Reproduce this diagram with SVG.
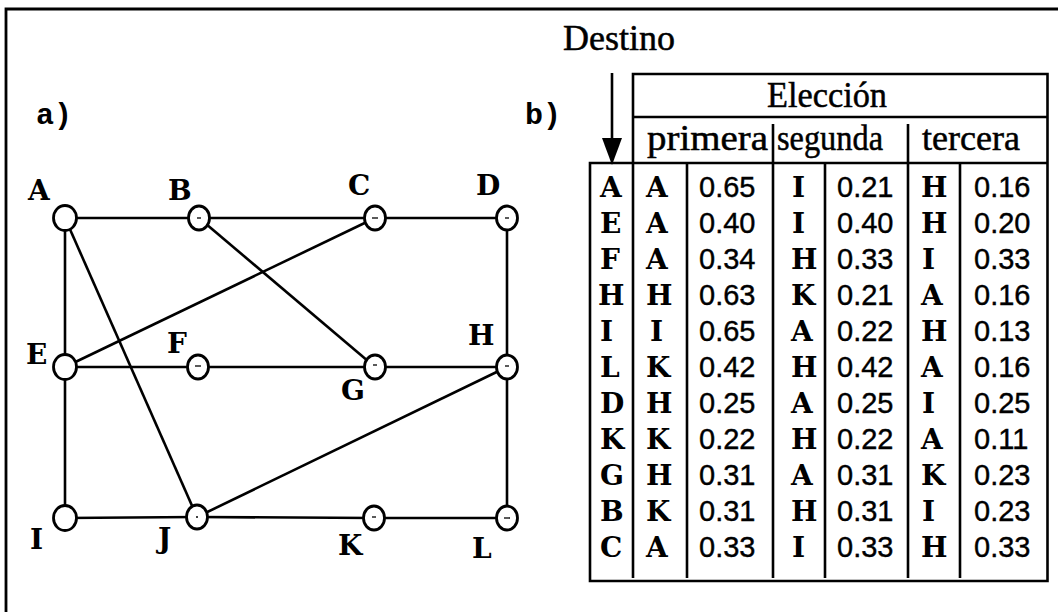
<svg xmlns="http://www.w3.org/2000/svg" width="1058" height="612" viewBox="0 0 1058 612">
<defs>
<style>
.frame{stroke:#000;stroke-width:2.8;fill:none}
.edge{stroke:#000;stroke-width:2.6;fill:none}
.node{fill:#fff;stroke:#000;stroke-width:2.8}
.dot{stroke:#000;stroke-width:1.3}
.lbl{font-family:"DejaVu Serif",serif;font-weight:bold;font-size:28px;fill:#000}
.tag{font-family:"Liberation Mono",monospace;font-weight:bold;font-size:30px;fill:#000}
.hdr{font-family:"Liberation Serif",serif;font-size:36px;fill:#000;stroke:#000;stroke-width:0.5}
.num{font-family:"Liberation Sans",sans-serif;font-size:29px;fill:#000;stroke:#000;stroke-width:0.4}
.grid{stroke:#000;stroke-width:2.6;fill:none}
</style>
</defs>
<rect width="1058" height="612" fill="#fff"/>
<path class="frame" d="M6,612 V9 H1058"/>
<text class="tag" x="36" y="124">a)</text>
<text class="tag" x="525" y="124">b)</text>

<g id="connectors">
<line class="edge" x1="65" y1="218" x2="199" y2="218"/>
<line class="edge" x1="199" y1="218" x2="375" y2="218"/>
<line class="edge" x1="375" y1="218" x2="507" y2="218"/>
<line class="edge" x1="65" y1="218" x2="65" y2="367"/>
<line class="edge" x1="65" y1="218" x2="197" y2="517"/>
<line class="edge" x1="199" y1="218" x2="375" y2="367"/>
<line class="edge" x1="375" y1="218" x2="65" y2="367"/>
<line class="edge" x1="507" y1="218" x2="507" y2="367"/>
<line class="edge" x1="65" y1="367" x2="198" y2="367"/>
<line class="edge" x1="198" y1="367" x2="375" y2="367"/>
<line class="edge" x1="375" y1="367" x2="507" y2="367"/>
<line class="edge" x1="65" y1="367" x2="65" y2="518"/>
<line class="edge" x1="507" y1="367" x2="197" y2="517"/>
<line class="edge" x1="507" y1="367" x2="507" y2="518"/>
<line class="edge" x1="65" y1="518" x2="197" y2="517"/>
<line class="edge" x1="197" y1="517" x2="374" y2="518"/>
<line class="edge" x1="374" y1="518" x2="507" y2="518"/>
</g>

<g id="node-A"><ellipse class="node" cx="65" cy="218" rx="11.5" ry="12.5"/><text class="lbl" x="28" y="200">A</text></g>
<g id="node-B"><ellipse class="node" cx="199" cy="218" rx="10.5" ry="12"/><line class="dot" x1="197" y1="218" x2="201" y2="218"/><text class="lbl" x="168" y="200">B</text></g>
<g id="node-C"><ellipse class="node" cx="375" cy="218" rx="10.5" ry="12"/><line class="dot" x1="372" y1="218" x2="378" y2="218"/><text class="lbl" x="348" y="195">C</text></g>
<g id="node-D"><ellipse class="node" cx="507" cy="218" rx="10.5" ry="12"/><line class="dot" x1="505" y1="218" x2="509" y2="218"/><text class="lbl" x="476" y="195">D</text></g>
<g id="node-E"><ellipse class="node" cx="65" cy="367" rx="11.5" ry="12.5"/><text class="lbl" x="26" y="364">E</text></g>
<g id="node-F"><ellipse class="node" cx="198" cy="367" rx="10.5" ry="12"/><line class="dot" x1="195" y1="366" x2="201" y2="366"/><text class="lbl" x="167" y="353">F</text></g>
<g id="node-G"><ellipse class="node" cx="375" cy="367" rx="10.5" ry="12"/><line class="dot" x1="373" y1="365" x2="377" y2="365"/><text class="lbl" x="341" y="400">G</text></g>
<g id="node-H"><ellipse class="node" cx="507" cy="367" rx="10.5" ry="12"/><line class="dot" x1="505" y1="366" x2="509" y2="366"/><text class="lbl" x="468" y="345">H</text></g>
<g id="node-I"><ellipse class="node" cx="65" cy="518" rx="11.5" ry="12.5"/><text class="lbl" x="30" y="549">I</text></g>
<g id="node-J"><ellipse class="node" cx="197" cy="517" rx="10.5" ry="12"/><line class="dot" x1="196" y1="517" x2="198" y2="517"/><text class="lbl" x="158" y="548">J</text></g>
<g id="node-K"><ellipse class="node" cx="374" cy="518" rx="10.5" ry="12"/><line class="dot" x1="372" y1="517" x2="376" y2="517"/><text class="lbl" x="338" y="555">K</text></g>
<g id="node-L"><ellipse class="node" cx="507" cy="518" rx="10.5" ry="12"/><line class="dot" x1="504" y1="518" x2="510" y2="518"/><text class="lbl" x="472" y="558">L</text></g>

<g id="table">
<text class="hdr" x="563" y="50" textLength="112" lengthAdjust="spacingAndGlyphs">Destino</text>
<line class="grid" x1="612" y1="73" x2="612" y2="142"/>
<polygon points="602,138 622,138 612,165" fill="#000"/>
<path class="grid" d="M633,163 V74 H1047.5 V581 H590 V163 H1047.5"/>
<line class="grid" x1="633" y1="117" x2="1047.5" y2="117"/>
<line class="grid" x1="773" y1="124" x2="773" y2="163"/>
<line class="grid" x1="908" y1="124" x2="908" y2="163"/>
<line class="grid" x1="633" y1="163" x2="633" y2="578"/>
<line class="grid" x1="687" y1="163" x2="687" y2="578"/>
<line class="grid" x1="773" y1="163" x2="773" y2="578"/>
<line class="grid" x1="825" y1="163" x2="825" y2="578"/>
<line class="grid" x1="908" y1="163" x2="908" y2="578"/>
<line class="grid" x1="960" y1="163" x2="960" y2="578"/>
<text class="hdr" x="767" y="107" textLength="120" lengthAdjust="spacingAndGlyphs">Elección</text>
<text class="hdr" x="647" y="150" textLength="121" lengthAdjust="spacingAndGlyphs">primera</text>
<text class="hdr" x="777" y="150" textLength="106" lengthAdjust="spacingAndGlyphs">segunda</text>
<text class="hdr" x="922" y="150" textLength="98" lengthAdjust="spacingAndGlyphs">tercera</text>

<g class="lbl">
<text x="600" y="197">A</text><text x="600" y="233">E</text><text x="600" y="269">F</text><text x="598" y="305">H</text><text x="600" y="341">I</text><text x="600" y="377">L</text><text x="600" y="413">D</text><text x="600" y="449">K</text><text x="600" y="485">G</text><text x="600" y="521">B</text><text x="600" y="557">C</text>
<text x="646" y="197">A</text><text x="646" y="233">A</text><text x="646" y="269">A</text><text x="646" y="305">H</text><text x="650" y="341">I</text><text x="646" y="377">K</text><text x="646" y="413">H</text><text x="646" y="449">K</text><text x="646" y="485">H</text><text x="646" y="521">K</text><text x="646" y="557">A</text>
<text x="792" y="197">I</text><text x="792" y="233">I</text><text x="791" y="269">H</text><text x="791" y="305">K</text><text x="791" y="341">A</text><text x="791" y="377">H</text><text x="791" y="413">A</text><text x="791" y="449">H</text><text x="791" y="485">A</text><text x="791" y="521">H</text><text x="792" y="557">I</text>
<text x="921" y="197">H</text><text x="921" y="233">H</text><text x="922" y="269">I</text><text x="921" y="305">A</text><text x="921" y="341">H</text><text x="921" y="377">A</text><text x="922" y="413">I</text><text x="921" y="449">A</text><text x="921" y="485">K</text><text x="922" y="521">I</text><text x="921" y="557">H</text>
</g>
<g class="num">
<text x="699" y="197">0.65</text><text x="699" y="233">0.40</text><text x="699" y="269">0.34</text><text x="699" y="305">0.63</text><text x="699" y="341">0.65</text><text x="699" y="377">0.42</text><text x="699" y="413">0.25</text><text x="699" y="449">0.22</text><text x="699" y="485">0.31</text><text x="699" y="521">0.31</text><text x="699" y="557">0.33</text>
<text x="837" y="197">0.21</text><text x="837" y="233">0.40</text><text x="837" y="269">0.33</text><text x="837" y="305">0.21</text><text x="837" y="341">0.22</text><text x="837" y="377">0.42</text><text x="837" y="413">0.25</text><text x="837" y="449">0.22</text><text x="837" y="485">0.31</text><text x="837" y="521">0.31</text><text x="837" y="557">0.33</text>
<text x="974" y="197">0.16</text><text x="974" y="233">0.20</text><text x="974" y="269">0.33</text><text x="974" y="305">0.16</text><text x="974" y="341">0.13</text><text x="974" y="377">0.16</text><text x="974" y="413">0.25</text><text x="974" y="449">0.11</text><text x="974" y="485">0.23</text><text x="974" y="521">0.23</text><text x="974" y="557">0.33</text>
</g>
</g>
</svg>
